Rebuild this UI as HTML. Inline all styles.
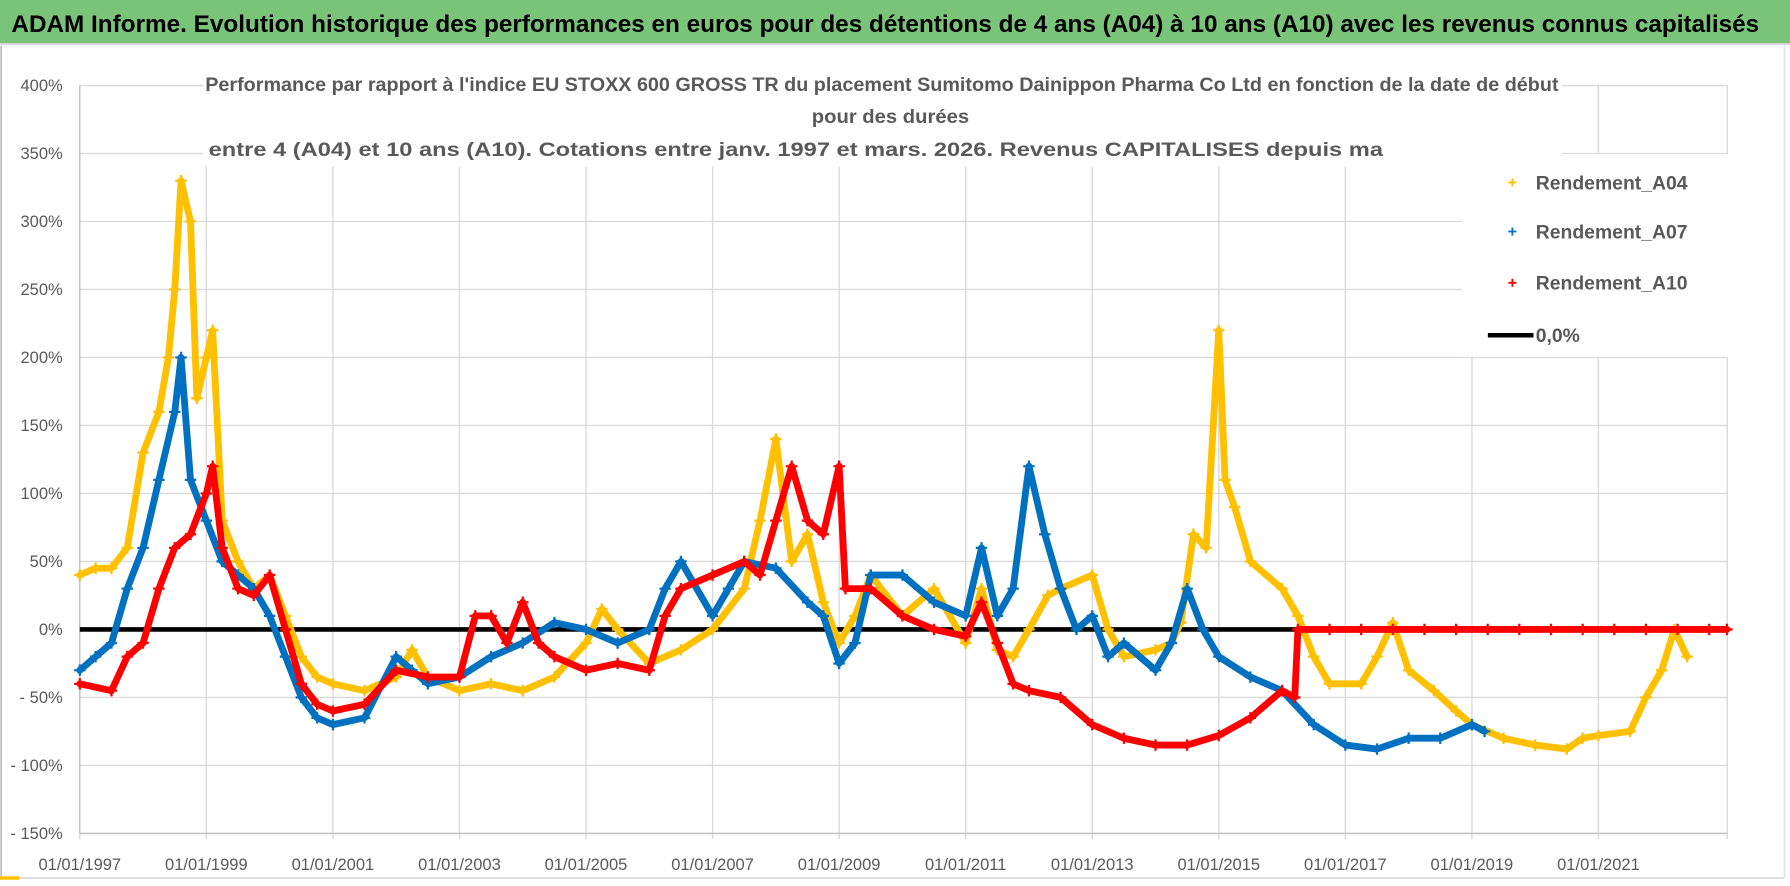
<!DOCTYPE html>
<html><head><meta charset="utf-8"><title>ADAM Informe</title>
<style>
html,body{margin:0;padding:0;background:#fff;}
svg{display:block;font-family:"Liberation Sans",Arial,sans-serif;}
</style></head>
<body>
<svg id="chart" width="1790" height="886" viewBox="0 0 1570 777" preserveAspectRatio="none" xmlns="http://www.w3.org/2000/svg">
  <rect x="0" y="0" width="1570" height="777" fill="#fff"/>
  <rect x="0" y="0" width="1570" height="38" fill="#7ac47a"/>
  <line x1="0" y1="38.5" x2="1570" y2="38.5" stroke="#d0d0d0" stroke-width="1.5"/>
  <text x="10" y="28" font-size="21" font-weight="bold" fill="#000" textLength="1533" lengthAdjust="spacingAndGlyphs">ADAM Informe. Evolution historique des performances en euros pour des détentions de 4 ans (A04) à 10 ans (A10) avec les revenus connus capitalisés</text>
  <line x1="1565" y1="40" x2="1565" y2="770" stroke="#d9d9d9" stroke-width="1"/>
  <line x1="1" y1="40" x2="1" y2="770" stroke="#bfbfbf" stroke-width="1.5"/>
  <line x1="0" y1="770" x2="1565" y2="770" stroke="#d9d9d9" stroke-width="1.5"/>
  <rect x="0" y="768.5" width="17" height="3" fill="#FFC000"/>
  <g id="grid"></g>
  <rect x="178" y="62" width="1192" height="84" fill="#fff"/>
  <g id="axes"></g>
  <rect x="1282" y="135" width="234" height="178" fill="#fff"/>
  <g id="marks"></g>
  <g font-weight="bold" fill="#595959" font-size="17">
    <text x="180" y="80" textLength="1187" lengthAdjust="spacingAndGlyphs">Performance par rapport à l'indice EU STOXX 600 GROSS TR  du placement Sumitomo Dainippon Pharma Co Ltd en fonction de la date de début</text>
    <text x="712" y="108" textLength="138" lengthAdjust="spacingAndGlyphs">pour des durées</text>
    <text x="183" y="137" textLength="1030" lengthAdjust="spacingAndGlyphs">entre 4 (A04) et 10 ans (A10).  Cotations entre janv. 1997 et mars. 2026. Revenus CAPITALISES depuis ma</text>
  </g>
  <g id="legend" font-weight="bold" fill="#595959" font-size="17"></g>
</svg>
<script>
// ---- data ----
var yTicks = [400, 350, 300, 250, 200, 150, 100, 50, 0, -50, -100, -150];
var yTickLabels = ["400%","350%","300%","250%","200%","150%","100%","50%","0%","- 50%","- 100%","- 150%"];
var xTickYears = [1997, 1999, 2001, 2003, 2005, 2007, 2009, 2011, 2013, 2015, 2017, 2019, 2021];
var xTickLabels = ["01/01/1997","01/01/1999","01/01/2001","01/01/2003","01/01/2005","01/01/2007","01/01/2009","01/01/2011","01/01/2013","01/01/2015","01/01/2017","01/01/2019","01/01/2021"];

var a04Years = [1997,1997.25,1997.5,1997.75,1998,1998.25,1998.4,1998.5,1998.6,1998.75,1998.85,1999,1999.1,1999.25,1999.5,1999.75,2000,2000.25,2000.5,2000.75,2001,2001.5,2002,2002.25,2002.5,2003,2003.5,2004,2004.5,2005,2005.25,2005.5,2006,2006.5,2007,2007.5,2007.75,2008,2008.25,2008.5,2008.75,2009,2009.25,2009.5,2010,2010.5,2011,2011.25,2011.5,2011.75,2012,2012.3,2012.5,2013,2013.25,2013.5,2014,2014.25,2014.4,2014.6,2014.8,2015,2015.1,2015.25,2015.5,2016,2016.25,2016.5,2016.75,2017.25,2017.5,2017.75,2018,2018.4,2018.75,2019,2019.5,2020,2020.5,2020.75,2021,2021.5,2021.75,2022,2022.2,2022.4];
var a04Values = [40,45,45,60,130,160,200,250,330,300,170,200,220,80,50,30,40,10,-20,-35,-40,-45,-35,-15,-35,-45,-40,-45,-35,-10,15,0,-25,-15,0,30,80,140,50,70,20,-10,10,40,10,30,-10,30,-15,-20,0,25,30,40,0,-20,-15,-10,5,70,60,220,110,90,50,30,10,-20,-40,-40,-20,5,-30,-45,-60,-70,-80,-85,-88,-80,-78,-75,-50,-30,0,-20];

var a07Years = [1997,1997.25,1997.5,1997.75,1998,1998.25,1998.5,1998.6,1998.75,1999,1999.25,1999.5,1999.75,2000,2000.25,2000.5,2000.75,2001,2001.5,2002,2002.25,2002.5,2003,2003.5,2004,2004.5,2005,2005.5,2006,2006.25,2006.5,2007,2007.25,2007.5,2008,2008.5,2008.75,2009,2009.25,2009.5,2010,2010.5,2011,2011.25,2011.5,2011.75,2012,2012.25,2012.5,2012.75,2013,2013.25,2013.5,2014,2014.25,2014.5,2014.75,2015,2015.5,2016,2016.5,2017,2017.5,2018,2018.5,2019,2019.2];
var a07Values = [-30,-20,-10,30,60,110,160,200,110,80,50,40,30,10,-20,-50,-65,-70,-65,-20,-30,-40,-35,-20,-10,5,0,-10,0,30,50,10,30,50,45,20,10,-25,-10,40,40,20,10,60,10,30,120,70,30,0,10,-20,-10,-30,-10,30,0,-20,-35,-45,-70,-85,-88,-80,-80,-70,-75];

var a10Years = [1997,1997.5,1997.75,1998,1998.25,1998.5,1998.75,1999,1999.1,1999.25,1999.5,1999.75,2000,2000.25,2000.5,2000.75,2001,2001.5,2002,2002.5,2003,2003.25,2003.5,2003.75,2004,2004.25,2004.5,2005,2005.5,2006,2006.25,2006.5,2007,2007.5,2007.75,2008,2008.25,2008.5,2008.75,2009,2009.1,2009.5,2010,2010.5,2011,2011.25,2011.5,2011.75,2012,2012.5,2013,2013.5,2014,2014.5,2015,2015.5,2016,2016.2,2016.25,2016.75,2017.25,2017.75,2018.25,2018.75,2019.25,2019.75,2020.25,2020.75,2021.25,2021.75,2022.25,2022.75,2023.03];
var a10Values = [-40,-45,-20,-10,30,60,70,100,120,60,30,25,40,0,-40,-55,-60,-55,-30,-35,-35,10,10,-10,20,-10,-20,-30,-25,-30,10,30,40,50,40,80,120,80,70,120,30,30,10,0,-5,20,-10,-40,-45,-50,-70,-80,-85,-85,-78,-65,-45,-50,0,0,0,0,0,0,0,0,0,0,0,0,0,0,0];

// ---- axis functions ----
var X0 = 70, PX_PER_YEAR = 55.5, Y0 = 552, PX_PER_PCT = 1.1925;
function xs(year){ return X0 + (year - 1997) * PX_PER_YEAR; }
function ys(v){ return Y0 - v * PX_PER_PCT; }

var NS = "http://www.w3.org/2000/svg";
function mk(tag, attrs, parent){
  var e = document.createElementNS(NS, tag);
  for (var k in attrs) e.setAttribute(k, attrs[k]);
  parent.appendChild(e);
  return e;
}
var grid = document.getElementById("grid");
var axes = document.getElementById("axes");
var marks = document.getElementById("marks");
var legend = document.getElementById("legend");
var xRight = xs(2023.04);

yTicks.forEach(function(v, i){
  var l = mk("line", {x1: X0, x2: xRight, y1: ys(v), y2: ys(v), stroke: "#d9d9d9", "stroke-width": 1.2}, grid);
  
  
  var t = mk("text", {x: 55, y: ys(v) + 5, "text-anchor": "end", "font-size": 14.5, fill: "#595959"}, axes);
  t.textContent = yTickLabels[i];
  
  
});
xTickYears.forEach(function(yr, i){
  var l = mk("line", {x1: xs(yr), x2: xs(yr), y1: ys(400), y2: ys(-150) + 5, stroke: "#d9d9d9", "stroke-width": 1.2}, grid);
  
  
  var t = mk("text", {x: xs(yr), y: 763, "text-anchor": "middle", "font-size": 14.5, fill: "#595959"}, axes);
  t.textContent = xTickLabels[i];
  
  
});
[2023].forEach(function(yr){
  var l = mk("line", {x1: xs(yr)+2, x2: xs(yr)+2, y1: ys(400), y2: ys(-150) + 5, stroke: "#d9d9d9", "stroke-width": 1.2}, grid);
  
  
});
var ya = mk("line", {x1: X0, x2: X0, y1: ys(400), y2: ys(-150), stroke: "#bfbfbf", "stroke-width": 1.2}, axes);


var xa = mk("line", {x1: X0, x2: xRight, y1: ys(-150), y2: ys(-150), stroke: "#bfbfbf", "stroke-width": 1.2}, axes);



var zl = mk("line", {x1: xs(1997), x2: xRight, y1: ys(0), y2: ys(0), stroke: "#000", "stroke-width": 4}, marks);



function drawSeries(years, vals, color, name, width){
  var g = mk("g", {}, marks);
  
  
  var pts = years.map(function(y, i){ return xs(y).toFixed(1) + "," + ys(vals[i]).toFixed(1); }).join(" ");
  var pl = mk("polyline", {points: pts, fill: "none", stroke: color, "stroke-width": width, "stroke-linejoin": "round", "stroke-linecap": "round"}, g);
  
  
  years.forEach(function(y, i){
    var cx = xs(y), cy = ys(vals[i]);
    var p = mk("path", {d: "M" + (cx-5) + "," + cy + "h10M" + cx + "," + (cy-5) + "v10", stroke: color, "stroke-width": 2}, g);
    
    
  });
}
drawSeries(a04Years, a04Values, "#FFC000", "series-a04", 6);
drawSeries(a07Years, a07Values, "#0070C0", "series-a07", 6);
drawSeries(a10Years, a10Values, "#FF0000", "series-a10", 6);

var legItems = [["Rendement_A04", "#FFC000", 160], ["Rendement_A07", "#0070C0", 203], ["Rendement_A10", "#FF0000", 248]];
legItems.forEach(function(it){
  var m = mk("path", {d: "M1323," + it[2] + "h7M1326.5," + (it[2]-3.5) + "v7", stroke: it[1], "stroke-width": 1.6}, legend);
  
  
  var t = mk("text", {x: 1347, y: it[2] + 6}, legend);
  t.textContent = it[0];
  
  
});
var zm = mk("line", {x1: 1305, x2: 1345, y1: 294, y2: 294, stroke: "#000", "stroke-width": 4}, legend);


var zt = mk("text", {x: 1347, y: 300}, legend);
zt.textContent = "0,0%";


</script>
</body></html>
